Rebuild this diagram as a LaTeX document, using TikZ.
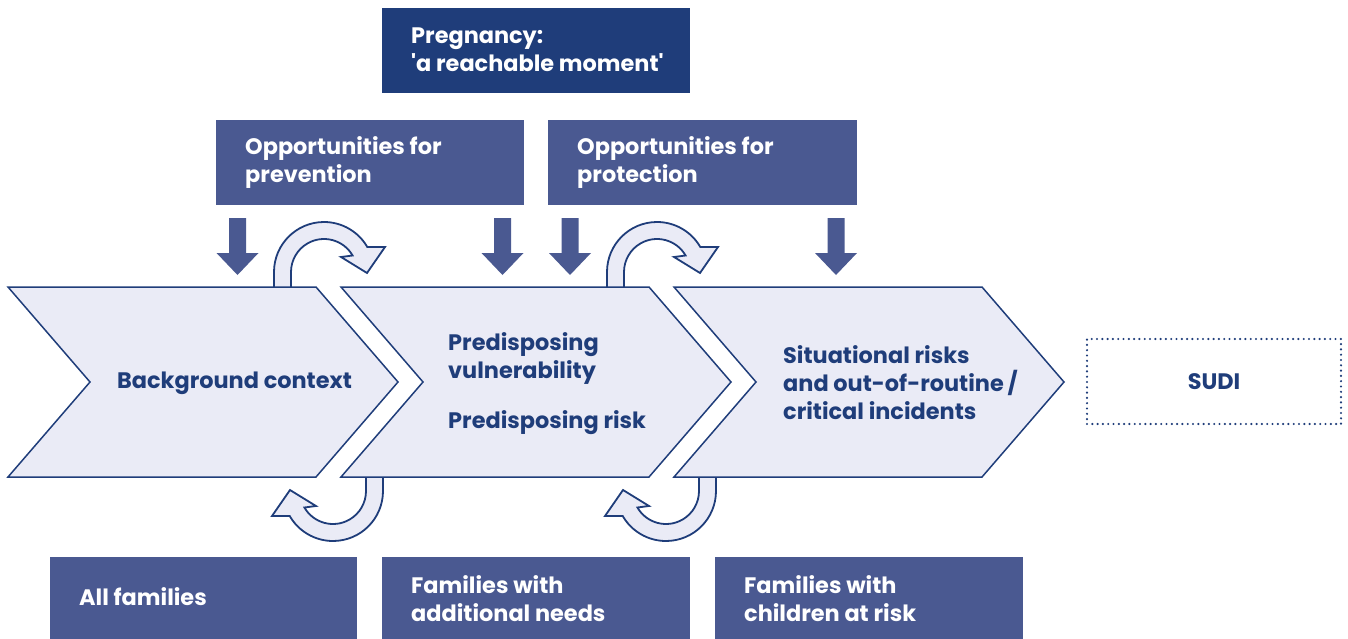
\documentclass[tikz,border=0pt]{standalone}
\usepackage{fontspec}
\setmainfont{Poppins}
\definecolor{navy}{RGB}{31,61,122}
\definecolor{slate}{RGB}{74,89,145}
\definecolor{lav}{RGB}{234,235,246}
\begin{document}
\begin{tikzpicture}[x=1pt,y=-1pt,
  chev/.style={draw=navy, fill=lav, line width=1.5pt, line join=miter},
  curvline/.style={draw=navy, fill=lav, line width=1.8pt, line join=miter},
  box/.style={fill=slate, draw=none, inner sep=0pt, anchor=north west},
  darkbox/.style={fill=navy, draw=none, inner sep=0pt, anchor=north west},
  wtxt/.style={text=white, font=\bfseries\fontsize{22.4}{28}\selectfont, align=left, inner sep=0pt, anchor=west},
  ntxt/.style={text=navy, font=\bfseries\fontsize{22.4}{28}\selectfont, align=left, inner sep=0pt, anchor=west},
  curv/.pic={\draw[curvline] (-50,20) -- (-50,0) arc[start angle=180,end angle=330,radius=50]
      -- (61,-25) -- (43,1) -- (17,-15) -- (330:33) arc[start angle=330,end angle=180,radius=33]
      -- (-33,20) -- cycle;},
  darr/.pic={\fill[slate] (-8.5,0) -- (8.5,0) -- (8.5,35) -- (21,35) -- (0,57) -- (-21,35) -- (-8.5,35) -- cycle;}
]
\useasboundingbox (0,0) rectangle (1348,639);

% top boxes
\node[darkbox, minimum width=308pt, minimum height=85pt] (preg) at (382,8) {};
\node[wtxt] (pregT) at ([xshift=29pt,yshift=1pt]preg.west) {Pregnancy:\\\textquotesingle a reachable moment\textquotesingle};
\node[box, minimum width=308pt, minimum height=85pt] (prev) at (216,120) {};
\node[wtxt] (prevT) at ([xshift=29pt]prev.west) {Opportunities for\\prevention};
\node[box, minimum width=309pt, minimum height=85pt] (prot) at (548,120) {};
\node[wtxt] (protT) at ([xshift=29pt]prot.west) {Opportunities for\\protection};

% down arrows
\pic at (237.5,218) {darr};
\pic at (502.5,218) {darr};
\pic at (570,218) {darr};
\pic at (836,218) {darr};

% curved arrows
\pic at (324,272) {curv};
\pic at (657,272) {curv};
\pic[rotate=180] at (333,491) {curv};
\pic[rotate=180] at (666,491) {curv};

% chevrons
\foreach \lx in {8,341,674}{
  \draw[chev] (\lx,287) -- ++(308,0) -- ++(82,95) -- ++(-82,95) -- ++(-308,0) -- ++(82,-95) -- cycle;
}
\node[ntxt] (bg) at (117,383) {Background context};
\node[ntxt] (pre) at (448,384) {Predisposing\\vulnerability\\[22pt]Predisposing risk};
\node[ntxt] (sit) at (783,383) {Situational risks\\and out-of-routine\,/\\critical incidents};

% SUDI
\node[draw=navy, line width=2.4pt, dash pattern=on 0pt off 5.3pt, line cap=round,
      minimum width=254pt, minimum height=85pt, inner sep=0pt,
      text=navy, font=\bfseries\fontsize{22.4}{28}\selectfont] (sudi) at (1214,381.5) {SUDI};

% bottom boxes
\node[box, minimum width=307pt, minimum height=82pt] (all) at (50,557) {};
\node[wtxt] (allT) at ([xshift=29pt,yshift=2pt]all.west) {All families};
\node[box, minimum width=308pt, minimum height=82pt] (add) at (382,557) {};
\node[wtxt] (addT) at ([xshift=29pt]add.west) {Families with\\additional needs};
\node[box, minimum width=308pt, minimum height=82pt] (risk) at (715,557) {};
\node[wtxt] (riskT) at ([xshift=29pt]risk.west) {Families with\\children at risk};
\end{tikzpicture}
\end{document}
